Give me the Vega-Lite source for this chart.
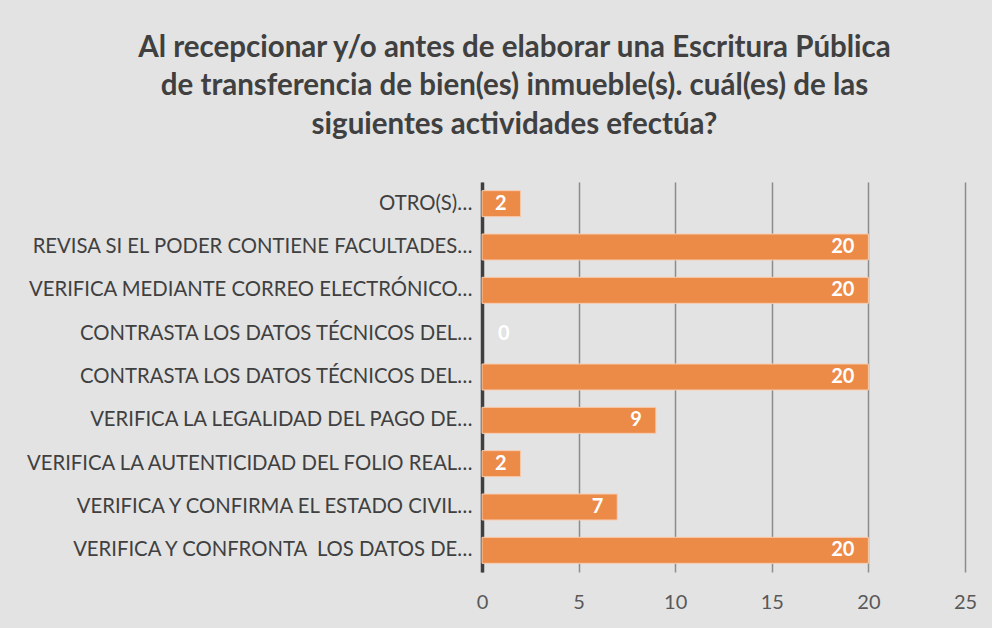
{
  "$schema": "https://vega.github.io/schema/vega-lite/v6.json",
  "width": 483,
  "height": 390,
  "autosize": {"type": "none"},
  "padding": {"left": 482, "top": 182, "right": 27, "bottom": 56},
  "background": "#e3e3e3",
  "title": {
    "text": ["Al recepcionar y/o antes de elaborar una Escritura Pública", "de transferencia de bien(es) inmueble(s). cuál(es) de las", "siguientes actividades efectúa?"],
    "font": "Lato",
    "fontSize": 29.5,
    "fontWeight": "bold",
    "color": "#404040",
    "lineHeight": 38.5,
    "anchor": "middle",
    "dx": -209,
    "offset": 42
  },
  "config": {
    "view": {"stroke": null},
    "font": "Lato"
  },
  "data": {
    "values": [
      {"actividad": "OTRO(S)…", "valor": 2},
      {"actividad": "REVISA SI EL PODER CONTIENE FACULTADES…", "valor": 20},
      {"actividad": "VERIFICA MEDIANTE CORREO ELECTRÓNICO…", "valor": 20},
      {"actividad": "CONTRASTA LOS DATOS TÉCNICOS DEL…\u200b", "valor": 0},
      {"actividad": "CONTRASTA LOS DATOS TÉCNICOS DEL…", "valor": 20},
      {"actividad": "VERIFICA LA LEGALIDAD DEL PAGO DE…", "valor": 9},
      {"actividad": "VERIFICA LA AUTENTICIDAD DEL FOLIO REAL…", "valor": 2},
      {"actividad": "VERIFICA Y CONFIRMA EL ESTADO CIVIL…", "valor": 7},
      {"actividad": "VERIFICA Y CONFRONTA\u00a0 LOS DATOS DE…", "valor": 20}
    ]
  },
  "encoding": {
    "y": {
      "field": "actividad",
      "type": "nominal",
      "sort": null,
      "scale": {"paddingInner": 0.4, "paddingOuter": 0.2},
      "axis": {
        "title": null,
        "labelFont": "Lato",
        "labelFontSize": 20.3,
        "labelColor": "#404040",
        "labelPadding": 10,
        "labelLimit": 0,
        "ticks": false,
        "domainColor": "#3f3f3f",
        "domainWidth": 3.5
      }
    },
    "x": {
      "field": "valor",
      "type": "quantitative",
      "scale": {"domain": [0, 25], "nice": false},
      "axis": {
        "title": null,
        "values": [0, 5, 10, 15, 20, 25],
        "labelFont": "Lato",
        "labelFontSize": 20,
        "labelColor": "#595959",
        "labelPadding": 20,
        "labelFlush": false,
        "ticks": false,
        "domain": false,
        "grid": true,
        "gridColor": "#8c8c8c",
        "gridWidth": 1.5
      }
    }
  },
  "layer": [
    {
      "mark": {"type": "bar", "color": "#ec8a48", "stroke": "#f7cdb0", "strokeWidth": 1, "strokeOpacity": {"expr": "datum.valor > 0 ? 1 : 0"}}
    },
    {
      "mark": {
        "type": "text",
        "color": "white",
        "font": "Lato",
        "fontSize": 20,
        "fontWeight": "bold",
        "align": {"expr": "datum.valor > 0 ? 'right' : 'left'"},
        "dx": {"expr": "datum.valor > 0 ? -14 : 16"},
        "baseline": "middle"
      },
      "encoding": {"text": {"field": "valor", "type": "quantitative"}}
    }
  ]
}
